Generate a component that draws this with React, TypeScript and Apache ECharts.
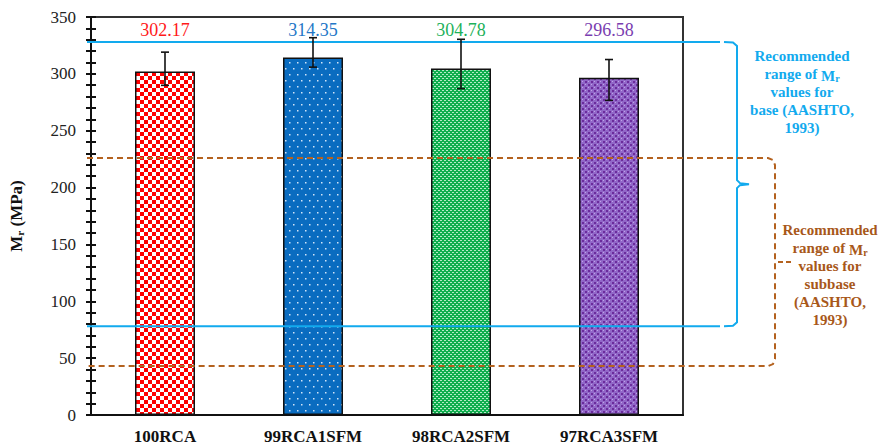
import { useEffect, useRef } from "react";
import * as echarts from "echarts";

const categories = ["100RCA", "99RCA1SFM", "98RCA2SFM", "97RCA3SFM"];
const mrValues = [302.17, 314.35, 304.78, 296.58];
const errLow = [289.9, 305.9, 287.0, 276.7];
const errHigh = [319.1, 331.8, 330.4, 312.6];
const valueColors = ["#ff1a1a", "#2377c7", "#1db15a", "#7a3db0"];
const yMin = 0;
const yMax = 350;
const yInterval = 50;
const labelRowValue = 338.6;
const baseRange = [78, 328];
const subbaseRange = [43, 226];
const baseText = ["Recommended", "range of {m|M}{s|r}", "values for", "base (AASHTO,", "1993)"];
const subbaseText = ["Recommended", "range of {m|M}{s|r}", "values for", "subbase", "(AASHTO,", "1993)"];

const SERIF = "'Liberation Serif', 'Times New Roman', serif";
const BLUE = "#12aaee";
const BROWN = "#b4621f";
const BROWN_TEXT = "#a8581a";

function makeTile(w: number, h: number, draw: (c: CanvasRenderingContext2D) => void) {
  const cv = document.createElement("canvas");
  cv.width = w;
  cv.height = h;
  const c = cv.getContext("2d")!;
  draw(c);
  return { image: cv, repeat: "repeat", imageWidth: w, imageHeight: h } as any;
}

function makePatterns() {
  const red = makeTile(8, 8, (c) => {
    c.fillStyle = "#ffffff";
    c.fillRect(0, 0, 8, 8);
    c.fillStyle = "#ff0000";
    c.fillRect(0, 0, 4, 4);
    c.fillRect(4, 4, 4, 4);
  });
  const blue = makeTile(8, 12, (c) => {
    c.fillStyle = "#0a6cc0";
    c.fillRect(0, 0, 8, 12);
    c.fillStyle = "rgba(220,235,250,0.95)";
    c.fillRect(1, 2, 1.5, 1.5);
    c.fillRect(5, 8, 1.5, 1.5);
  });
  const green = makeTile(4, 4, (c) => {
    c.fillStyle = "#0fae4e";
    c.fillRect(0, 0, 4, 4);
    c.fillStyle = "rgba(235,255,240,0.75)";
    c.fillRect(0, 0, 2, 1);
    c.fillRect(2, 2, 2, 1);
  });
  const purple = makeTile(6, 6, (c) => {
    c.fillStyle = "#9167c8";
    c.fillRect(0, 0, 6, 6);
    c.fillStyle = "#6b2c9c";
    c.fillRect(0, 0, 2, 2);
    c.fillRect(3, 3, 2, 2);
    c.fillStyle = "#c0a4e6";
    c.fillRect(0, 3, 1, 1);
    c.fillRect(3, 0, 1, 1);
  });
  return [red, blue, green, purple];
}

const GRID_LEFT = 87;
const GRID_TOP = 17;
const GRID_W = 596;
const GRID_H = 400;

export default function App() {
  const ref = useRef<HTMLDivElement>(null);

  useEffect(() => {
    document.body.style.margin = "0";
    const chart = echarts.init(ref.current!, null, { renderer: "svg" });
    const patterns = makePatterns();

    const yAxisBase = {
      type: "value",
      min: yMin,
      max: yMax,
      interval: yInterval,
      position: "left",
      splitLine: { show: false },
    };
    const tickStyle = { color: "#111", width: 2 };

    chart.setOption({
      animation: false,
      grid: {
        left: GRID_LEFT,
        top: GRID_TOP,
        width: GRID_W,
        height: GRID_H,
        show: true,
        borderColor: "#333",
        borderWidth: 2,
        backgroundColor: "transparent",
      },
      xAxis: {
        type: "category",
        data: categories,
        axisLine: { lineStyle: { color: "#111", width: 2 } },
        axisTick: { show: false },
        axisLabel: {
          fontWeight: "bold",
          fontSize: 17,
          fontFamily: SERIF,
          color: "#111",
          margin: 13,
        },
      },
      yAxis: [
        {
          ...yAxisBase,
          axisLine: { show: true, lineStyle: { color: "#111", width: 2 } },
          axisTick: { show: true, length: 5, lineStyle: tickStyle },
          minorTick: { show: true, splitNumber: 5, length: 5, lineStyle: tickStyle },
          axisLabel: { fontSize: 17, fontFamily: SERIF, color: "#222", margin: 15 },
          name: "{m|M}{s|r}{m| (MPa)}",
          nameLocation: "middle",
          nameRotate: 90,
          nameGap: 66,
          nameTextStyle: {
            rich: {
              m: { fontSize: 17, fontWeight: "bold", fontFamily: SERIF, color: "#111", lineHeight: 20, verticalAlign: "bottom" },
              s: { fontSize: 11, fontWeight: "bold", fontFamily: SERIF, color: "#111", lineHeight: 14, verticalAlign: "bottom" },
            },
          },
        },
        {
          ...yAxisBase,
          axisLine: { show: false },
          axisTick: { show: true, inside: true, length: 5, lineStyle: tickStyle },
          minorTick: { show: true, splitNumber: 5, length: 5, lineStyle: tickStyle },
          axisLabel: { show: false },
        },
      ],
      series: [
        {
          type: "bar",
          barWidth: 60,
          data: mrValues.map((v, i) => ({ value: v, itemStyle: { color: patterns[i] } })),
          itemStyle: { borderColor: "#111", borderWidth: 1.5 },
          z: 2,
        },
        {
          type: "custom",
          z: 5,
          data: categories.map((_, i) => [i, errLow[i], errHigh[i]]),
          encode: { x: 0, y: [1, 2] },
          renderItem: (params: any, api: any) => {
            const x = api.value(0);
            const lo = api.coord([x, api.value(1)]);
            const hi = api.coord([x, api.value(2)]);
            const st = { stroke: "#111", lineWidth: 1.6 };
            const cap = 4;
            return {
              type: "group",
              children: [
                { type: "line", shape: { x1: lo[0], y1: lo[1], x2: hi[0], y2: hi[1] }, style: st },
                { type: "line", shape: { x1: hi[0] - cap, y1: hi[1], x2: hi[0] + cap, y2: hi[1] }, style: st },
                { type: "line", shape: { x1: lo[0] - cap, y1: lo[1], x2: lo[0] + cap, y2: lo[1] }, style: st },
              ],
            };
          },
        },
        {
          type: "custom",
          z: 6,
          data: categories.map((_, i) => [i, labelRowValue, mrValues[i]]),
          encode: { x: 0, y: 1 },
          renderItem: (params: any, api: any) => {
            const i = params.dataIndex;
            const p = api.coord([api.value(0), api.value(1)]);
            return {
              type: "text",
              x: p[0],
              y: p[1],
              style: {
                text: mrValues[i].toFixed(2),
                fill: valueColors[i],
                fontSize: 18,
                fontFamily: SERIF,
                align: "center",
                verticalAlign: "middle",
              },
            };
          },
        },
      ],
    });

    const yp = (v: number) => chart.convertToPixel({ yAxisIndex: 0 }, v) as number;
    const bTop = yp(baseRange[1]);
    const bBot = yp(baseRange[0]);
    const bMid = (bTop + bBot) / 2;
    const sTop = yp(subbaseRange[1]);
    const sBot = yp(subbaseRange[0]);
    const sMid = (sTop + sBot) / 2;

    const blueEnd = 720;
    const braceX = 737;
    const brownX = 775;

    const richFor = (color: string) => ({
      m: { fontSize: 15, fontWeight: "bold", fontFamily: SERIF, fill: color, color, lineHeight: 18, verticalAlign: "bottom" },
      s: { fontSize: 10, fontWeight: "bold", fontFamily: SERIF, fill: color, color, lineHeight: 13, verticalAlign: "bottom" },
    });

    const textLines = (lines: string[], cx: number, y0: number, color: string) =>
      lines.map((t, k) => ({
        type: "text",
        x: cx,
        y: y0 + k * 18,
        z: 10,
        style: {
          text: t,
          fill: color,
          fontSize: 15,
          fontWeight: "bold",
          fontFamily: SERIF,
          align: "center",
          verticalAlign: "middle",
          rich: richFor(color),
        },
      }));

    chart.setOption({
      graphic: [
        {
          type: "line",
          z: 3,
          shape: { x1: GRID_LEFT, y1: bTop, x2: blueEnd, y2: bTop },
          style: { stroke: BLUE, lineWidth: 2 },
        },
        {
          type: "line",
          z: 3,
          shape: { x1: GRID_LEFT, y1: bBot, x2: blueEnd, y2: bBot },
          style: { stroke: BLUE, lineWidth: 2 },
        },
        {
          type: "polyline",
          z: 3,
          shape: {
            points: [
              [724, bTop],
              [733, bTop + 0.5],
              [737, bTop + 4],
              [braceX, bMid - 4],
              [braceX + 3, bMid - 1],
              [braceX + 12, bMid],
              [braceX + 3, bMid + 1],
              [braceX, bMid + 4],
              [braceX, bBot - 4],
              [733, bBot - 0.5],
              [724, bBot],
            ],
          },
          style: { stroke: BLUE, lineWidth: 2, fill: null },
        },
        {
          type: "polyline",
          z: 3,
          shape: {
            points: [
              [GRID_LEFT, sTop],
              [brownX - 7, sTop],
              [brownX - 2, sTop + 2],
              [brownX, sTop + 7],
              [brownX, sBot - 7],
              [brownX - 2, sBot - 2],
              [brownX - 7, sBot],
              [GRID_LEFT, sBot],
            ],
          },
          style: { stroke: BROWN, lineWidth: 2, fill: null, lineDash: [6, 4] },
        },
        {
          type: "line",
          z: 3,
          shape: { x1: brownX + 3, y1: sMid, x2: brownX + 16, y2: sMid },
          style: { stroke: BROWN, lineWidth: 2, lineDash: [5, 3] },
        },
        ...textLines(baseText, 802, 56, BLUE),
        ...textLines(subbaseText, 830, 230, BROWN_TEXT),
      ],
    });

    return () => chart.dispose();
  }, []);

  return <div ref={ref} style={{ width: 880, height: 445 }} />;
}
